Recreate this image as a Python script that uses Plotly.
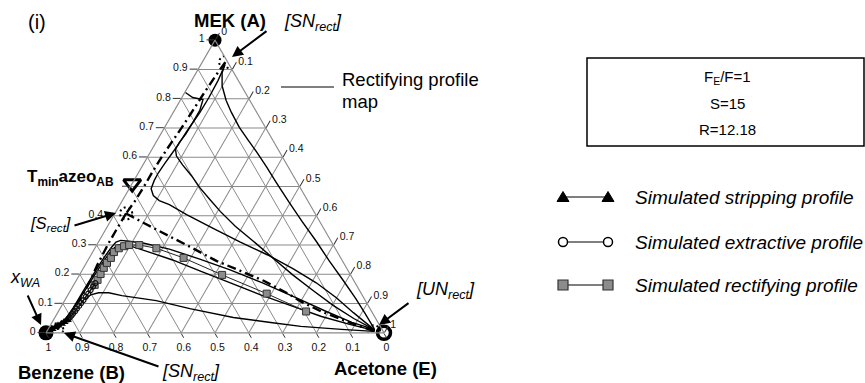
import numpy as np
import plotly.graph_objects as go

W, H = 865, 383
FONT = "Arial, Liberation Sans, sans-serif"

# ---- fixed points of the rectifying profile map (x_MEK, x_Acetone) ----
SN_TOP = (0.925, 0.068)
S_RECT = (0.408, 0.033)
SN_BOT = (0.012, 0.027)
UN_RECT = (0.005, 0.968)
AZEO_AB = (0.51, 0.0)

# ---- separatrices (dash-dot) ----
sep_upper_mek = [0.925, 0.88, 0.82, 0.75, 0.70, 0.65, 0.60, 0.55, 0.50, 0.45, 0.408]
sep_upper_ace = [0.068, 0.063, 0.058, 0.054, 0.051, 0.046, 0.042, 0.040, 0.040, 0.038, 0.033]
sep_lower_mek = [0.408, 0.36, 0.306, 0.23, 0.178, 0.12, 0.07, 0.035, 0.012]
sep_lower_ace = [0.033, 0.032, 0.032, 0.036, 0.042, 0.044, 0.040, 0.033, 0.027]
sep_un_mek = [0.408, 0.371, 0.330, 0.289, 0.245, 0.212, 0.178, 0.134, 0.107, 0.073, 0.039, 0.0085, 0.005]
sep_un_ace = [0.033, 0.111, 0.200, 0.290, 0.383, 0.469, 0.555, 0.649, 0.701, 0.778, 0.870, 0.960, 0.968]

# ---- rectifying profile map curves (solid) ----
map1_mek = [0.922, 0.888, 0.844, 0.794, 0.753, 0.702, 0.662, 0.618, 0.567, 0.516, 0.448, 0.381,
            0.313, 0.245, 0.178, 0.117, 0.069, 0.015, 0.005]
map1_ace = [0.069, 0.077, 0.099, 0.136, 0.172, 0.221, 0.265, 0.314, 0.369, 0.422, 0.494, 0.567,
            0.643, 0.716, 0.791, 0.858, 0.908, 0.963, 0.968]
map2_mek = [0.915, 0.861, 0.804, 0.753, 0.712, 0.679, 0.651, 0.628, 0.604, 0.574, 0.536, 0.496,
            0.455, 0.415, 0.364, 0.313, 0.256, 0.198, 0.144, 0.093, 0.049, 0.012, 0.005]
map2_ace = [0.072, 0.078, 0.080, 0.079, 0.075, 0.074, 0.069, 0.069, 0.084, 0.117, 0.163, 0.207,
            0.258, 0.308, 0.378, 0.457, 0.543, 0.631, 0.719, 0.804, 0.886, 0.964, 0.968]
map3_mek = [0.821, 0.804, 0.797, 0.760, 0.719, 0.682, 0.645, 0.611, 0.577, 0.547, 0.520, 0.492,
            0.469, 0.452, 0.438, 0.404, 0.357, 0.310, 0.266, 0.218, 0.171, 0.120, 0.069, 0.012, 0.005]
map3_ace = [0.002, 0.032, 0.066, 0.075, 0.075, 0.072, 0.070, 0.066, 0.062, 0.059, 0.060, 0.065,
            0.083, 0.109, 0.146, 0.214, 0.316, 0.420, 0.523, 0.624, 0.714, 0.799, 0.875, 0.964, 0.968]
map4_mek = [0.012, 0.042, 0.086, 0.144, 0.201, 0.256, 0.289, 0.310, 0.316, 0.313, 0.306, 0.286,
            0.252, 0.215, 0.171, 0.120, 0.073, 0.036, 0.012, 0.005]
map4_ace = [0.027, 0.033, 0.038, 0.039, 0.040, 0.043, 0.047, 0.052, 0.063, 0.089, 0.137, 0.222,
            0.329, 0.437, 0.555, 0.679, 0.793, 0.887, 0.964, 0.968]
map5_mek = [0.012, 0.030, 0.056, 0.100, 0.147, 0.198, 0.245, 0.283, 0.300, 0.303, 0.276, 0.249,
            0.212, 0.171, 0.130, 0.093, 0.056, 0.029, 0.0085, 0.005]
map5_ace = [0.027, 0.033, 0.038, 0.040, 0.043, 0.045, 0.048, 0.053, 0.063, 0.082, 0.167, 0.250,
            0.349, 0.460, 0.570, 0.678, 0.787, 0.884, 0.966, 0.968]
map6_mek = [0.115, 0.130, 0.137, 0.137, 0.127, 0.110, 0.083, 0.0525, 0.0355, 0.022, 0.012, 0.005]
map6_ace = [0.059, 0.067, 0.087, 0.117, 0.161, 0.271, 0.384, 0.528, 0.647, 0.743, 0.868, 0.968]

# ---- simulated column profiles ----
strip_mek = [0.002, 0.007, 0.0135, 0.019, 0.025, 0.031, 0.037, 0.044]
strip_ace = [0.002, 0.006, 0.011, 0.018, 0.023, 0.030, 0.035, 0.041]
extr_mek = [0.046, 0.052, 0.059, 0.066, 0.074, 0.083, 0.092, 0.102, 0.112, 0.123, 0.134, 0.146, 0.158, 0.170]
extr_ace = [0.043, 0.044, 0.046, 0.047, 0.049, 0.050, 0.052, 0.053, 0.055, 0.056, 0.058, 0.059, 0.060, 0.061]
rect_mek = [0.164, 0.181, 0.201, 0.222, 0.239, 0.256, 0.276, 0.289, 0.296, 0.300, 0.300, 0.289,
            0.256, 0.198, 0.134, 0.073]
rect_ace = [0.062, 0.062, 0.061, 0.060, 0.061, 0.064, 0.063, 0.071, 0.083, 0.096, 0.126, 0.182,
            0.279, 0.422, 0.586, 0.733]

# ---- axis ticks and text ----
tick_vals = [0, 0.1, 0.2, 0.3, 0.4, 0.5, 0.6, 0.7, 0.8, 0.9, 1]
tick_text = ["0", "0.1", "0.2", "0.3", "0.4", "0.5", "0.6", "0.7", "0.8", "0.9", "1"]
# on the MEK axis the 0.5 position is taken by the azeotrope label
tick_text_mek = ["0", "0.1", "0.2", "0.3", "0.4", "", "0.6", "0.7", "0.8", "0.9", "1"]
params_lines = ["F<sub>E</sub>/F=1", "S=15", "R=12.18"]
legend_labels = ["Simulated stripping profile", "Simulated extractive profile",
                 "Simulated rectifying profile"]


def abc(mek, ace):
    a = np.asarray(mek, float)
    c = np.asarray(ace, float)
    return a, 1.0 - a - c, c


def ring(center, r=0.018, n=60):
    """Small circle around a fixed point, expressed in ternary coordinates."""
    t = np.linspace(0, 2 * np.pi, n)
    da = (2 / np.sqrt(3)) * r * np.sin(t)
    a = center[0] + da
    c = center[1] + r * np.cos(t) - da / 2
    return a, 1.0 - a - c, c


fig = go.Figure()


def add_line(mek, ace, width=1.4, dash="solid", color="black"):
    a, b, c = abc(mek, ace)
    fig.add_trace(go.Scatterternary(a=a, b=b, c=c, mode="lines",
                                    line=dict(color=color, width=width, dash=dash),
                                    hoverinfo="skip", showlegend=False, cliponaxis=False))


for m, e in [(map1_mek, map1_ace), (map2_mek, map2_ace), (map3_mek, map3_ace),
             (map4_mek, map4_ace), (map5_mek, map5_ace), (map6_mek, map6_ace)]:
    add_line(m, e, width=1.4)

for m, e in [(sep_upper_mek, sep_upper_ace), (sep_lower_mek, sep_lower_ace), (sep_un_mek, sep_un_ace)]:
    add_line(m, e, width=2.4, dash="9px,4px,2px,4px")

# dotted rings marking the fixed points
for p in [SN_TOP, S_RECT, SN_BOT, UN_RECT]:
    a, b, c = ring(p)
    fig.add_trace(go.Scatterternary(a=a, b=b, c=c, mode="lines",
                                    line=dict(color="black", width=2, dash="2px,3px"),
                                    hoverinfo="skip", showlegend=False, cliponaxis=False))

# simulated profiles
a, b, c = abc(rect_mek, rect_ace)
fig.add_trace(go.Scatterternary(a=a, b=b, c=c, mode="lines+markers",
                                line=dict(color="#222", width=1),
                                marker=dict(symbol="square", size=7, color="#8c8c8c",
                                            line=dict(color="#333", width=1)),
                                hoverinfo="skip", showlegend=False, cliponaxis=False))
a, b, c = abc(extr_mek, extr_ace)
fig.add_trace(go.Scatterternary(a=a, b=b, c=c, mode="lines+markers",
                                line=dict(color="#111", width=1.5),
                                marker=dict(symbol="circle-open", size=5, color="#111",
                                            line=dict(width=1.2)),
                                hoverinfo="skip", showlegend=False, cliponaxis=False))
a, b, c = abc(strip_mek, strip_ace)
fig.add_trace(go.Scatterternary(a=a, b=b, c=c, mode="lines+markers",
                                line=dict(color="black", width=2.5),
                                marker=dict(symbol="triangle-up", size=8, color="black"),
                                hoverinfo="skip", showlegend=False, cliponaxis=False))

# pure components and azeotrope
fig.add_trace(go.Scatterternary(a=[1], b=[0], c=[0], mode="markers",
                                marker=dict(symbol="circle", size=13, color="black"),
                                hoverinfo="skip", showlegend=False, cliponaxis=False))
fig.add_trace(go.Scatterternary(a=[0], b=[1], c=[0], mode="markers",
                                marker=dict(symbol="circle", size=15, color="black"),
                                hoverinfo="skip", showlegend=False, cliponaxis=False))
fig.add_trace(go.Scatterternary(a=[0], b=[0], c=[1], mode="markers",
                                marker=dict(symbol="circle-open", size=13, color="black",
                                            line=dict(width=3.5)),
                                hoverinfo="skip", showlegend=False, cliponaxis=False))
fig.add_trace(go.Scatterternary(a=[AZEO_AB[0]], b=[1 - AZEO_AB[0] - AZEO_AB[1]], c=[AZEO_AB[1]],
                                mode="markers",
                                marker=dict(symbol="triangle-down-open", size=15, color="black",
                                            line=dict(width=3)),
                                hoverinfo="skip", showlegend=False, cliponaxis=False))


def axis(labels, ticklen=8):
    return dict(tickmode="array", tickvals=tick_vals, ticktext=labels, ticks="outside", ticklen=ticklen,
                tickcolor="#333", tickwidth=1.2, showgrid=True, gridcolor="#8a8a8a", gridwidth=1.1,
                showline=True, linecolor="#8a8a8a", linewidth=1.1, min=0,
                tickfont=dict(family=FONT, size=10.5, color="#111"), title=dict(text=""))


def px(x):
    return x / W


def py(y):
    return 1 - y / H


annotations = []


def text(x, y, s, size=14, xanchor="center", bold=False, italic=False):
    if bold:
        s = "<b>" + s + "</b>"
    if italic:
        s = "<i>" + s + "</i>"
    annotations.append(dict(x=px(x), y=py(y), xref="paper", yref="paper", text=s,
                            showarrow=False, xanchor=xanchor, yanchor="middle",
                            font=dict(family=FONT, size=size, color="black")))


def arrow(x0, y0, x1, y1):
    annotations.append(dict(x=px(x1), y=py(y1), xref="paper", yref="paper",
                            ax=x0 - x1, ay=y0 - y1, axref="pixel", ayref="pixel",
                            text="", showarrow=True, arrowhead=2, arrowsize=1.1,
                            arrowwidth=2, arrowcolor="black"))


text(37, 22, "(i)", size=20)
text(230, 20, "MEK (A)", size=18.5, bold=True)
text(71, 372, "Benzene (B)", size=18.5, bold=True)
text(385, 368, "Acetone (E)", size=18.5, bold=True)
text(70, 178, "T<sub>min</sub>azeo<sub>AB</sub>", size=17, bold=True)
text(313, 23, "[SN<sub>rect</sub>]", size=18, italic=True)
text(50, 224, "[S<sub>rect</sub>]", size=16.5, italic=True)
text(191, 372, "[SN<sub>rect</sub>]", size=18, italic=True)
text(445, 290, "[UN<sub>rect</sub>]", size=18, italic=True)
text(25, 278, "x<sub>WA</sub>", size=18, italic=True)
text(340, 79, "Rectifying profile", size=18.5, xanchor="left")
text(340, 101, "map", size=18.5, xanchor="left")

arrow(268, 30, 232, 57)
arrow(73, 226, 116, 213)
arrow(160, 367, 64, 333)
arrow(410, 302, 379, 325)
arrow(27, 294, 41, 325)

for s, yy in zip(params_lines, [77, 103, 130]):
    text(727, yy, s, size=15)

legend_rows = [197, 242, 285]
for lbl, yy in zip(legend_labels, legend_rows):
    text(633, yy, lbl, size=19, xanchor="left", italic=True)

shapes = [
    dict(type="rect", xref="paper", yref="paper", x0=px(587), x1=px(864), y0=py(146), y1=py(58),
         line=dict(color="black", width=1.5)),
    dict(type="line", xref="paper", yref="paper", x0=px(281), x1=px(334), y0=py(87), y1=py(87),
         line=dict(color="black", width=1.2)),
]
for yy in legend_rows:
    shapes.append(dict(type="line", xref="paper", yref="paper", x0=px(563), x1=px(608),
                       y0=py(yy), y1=py(yy), line=dict(color="black", width=1.2)))
for xx in (563, 608):
    y0 = legend_rows[0]
    shapes.append(dict(type="path", xref="paper", yref="paper",
                       path=f"M {px(xx-6)},{py(y0+4.5)} L {px(xx+6)},{py(y0+4.5)} L {px(xx)},{py(y0-5.5)} Z",
                       fillcolor="black", line=dict(color="black", width=1)))
    y1 = legend_rows[1]
    shapes.append(dict(type="circle", xref="paper", yref="paper", x0=px(xx-4.5), x1=px(xx+4.5),
                       y0=py(y1+4.5), y1=py(y1-4.5), fillcolor="white", line=dict(color="black", width=1.5)))
    y2 = legend_rows[2]
    shapes.append(dict(type="rect", xref="paper", yref="paper", x0=px(xx-5), x1=px(xx+5),
                       y0=py(y2+5), y1=py(y2-5), fillcolor="#8c8c8c", line=dict(color="#333", width=1.2)))

fig.update_layout(
    width=W, height=H, margin=dict(l=0, r=0, t=0, b=0),
    paper_bgcolor="white", plot_bgcolor="white", showlegend=False,
    ternary=dict(sum=1, bgcolor="white",
                 domain=dict(x=[46 / W, 384 / W], y=[50 / H, 343 / H]),
                 aaxis=axis(tick_text_mek), baxis=axis(tick_text, ticklen=5),
                 caxis=axis(tick_text)),
    annotations=annotations, shapes=shapes,
)

fig.write_html("out.html")
